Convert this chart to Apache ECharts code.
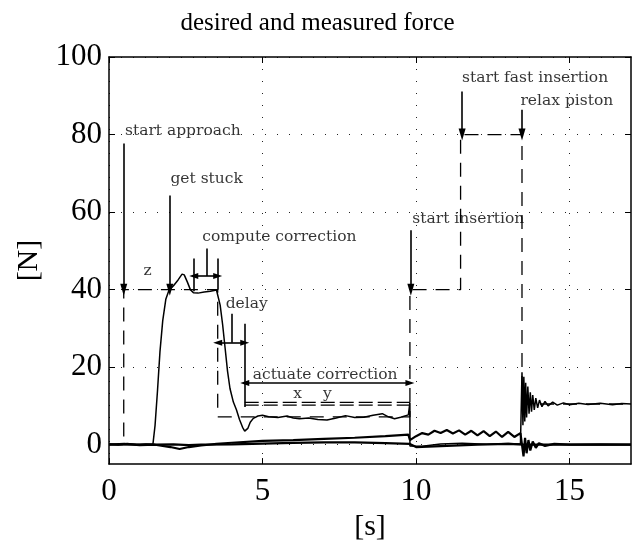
<!DOCTYPE html>
<html>
<head>
<meta charset="utf-8">
<script src="https://cdn.jsdelivr.net/npm/echarts@6/dist/echarts.min.js"></script>
<style>
  html, body { margin: 0; padding: 0; background: #fff; }
  #main { width: 635px; height: 547px; }
</style>
</head>
<body>
<div id="main"></div>
<script>
// tick labels
const xTicks = [0, 5, 10, 15]
const yTicks = [0, 20, 40, 60, 80, 100]

// desired force (dashed), [t, N]
const desired = [
  [0, 0], [0.48, 0], [0.48, 40], [3.54, 40], [3.54, 7.2], [9.8, 7.2],
  [9.8, 40], [11.45, 40], [11.45, 80], [13.45, 80], [13.45, 10.5], [17, 10.5]
]
// the two corrected levels "x" and "y"
const levelX = [[4.42, 10.9], [9.8, 10.9]]
const levelY = [[4.42, 10.2], [9.8, 10.2]]

// measured force, main trace
const measuredA = [
  [0, 0.2], [0.3, -0.1], [0.6, 0.3], [0.9, 0], [1.2, 0.2], [1.43, 0.1],
  [1.5, 5], [1.58, 14], [1.66, 24], [1.75, 32], [1.85, 37.5], [1.95, 39.8],
  [2.1, 41], [2.25, 42.5], [2.38, 44], [2.45, 43.8], [2.55, 42], [2.65, 40],
  [2.75, 39.2], [2.9, 39.1], [3.1, 39.4], [3.3, 39.6], [3.5, 39.9], [3.56, 39.5],
  [3.62, 36], [3.7, 31], [3.78, 25], [3.86, 19], [3.94, 14.5], [4.05, 11],
  [4.15, 9], [4.25, 6.5], [4.35, 4.5], [4.42, 3.5], [4.47, 3.1], [4.52, 4.2],
  [4.6, 5.8], [4.7, 6.8], [4.85, 7.4], [5.0, 7.6], [5.2, 7.2], [5.5, 7.0],
  [5.8, 7.4], [6.0, 6.9], [6.2, 6.7], [6.5, 6.9], [6.8, 6.5], [7.1, 6.4],
  [7.4, 6.9], [7.7, 7.5], [8.0, 7.0], [8.3, 7.1], [8.6, 7.6], [8.9, 8.0],
  [9.1, 7.2], [9.3, 6.7], [9.5, 7.1], [9.75, 7.7], [9.8, 10.9], [9.8, -0.3],
  [10.2, -0.4], [10.8, 0.2], [11.5, 0.4], [12.3, 0.1], [13.0, 0.3], [13.4, 0.2],
  [13.45, 18.7], [13.48, 5], [13.51, 17.5], [13.54, 6], [13.57, 16], [13.6, 7],
  [13.64, 15], [13.68, 8], [13.72, 13.5], [13.76, 8.5], [13.8, 12.8], [13.85, 9],
  [13.9, 12], [13.96, 9.5], [14.02, 11.5], [14.1, 9.8], [14.2, 11.2], [14.3, 10],
  [14.45, 11], [14.6, 10.2], [14.8, 10.8], [15.0, 10.3], [15.3, 10.7], [15.6, 10.4],
  [16.0, 10.7], [16.4, 10.3], [16.7, 10.6], [17, 10.5]
]

// measured, second trace (slow drift, noisy after 10 s)
const measuredB = [
  [0, 0], [0.5, 0.2], [1.0, -0.1], [1.5, 0], [2.0, -0.6], [2.3, -1.1], [2.6, -0.6],
  [3.0, -0.2], [3.5, 0.2], [4.0, 0.5], [5.0, 1.0], [6.0, 1.2], [7.0, 1.5],
  [8.0, 1.8], [9.0, 2.2], [9.75, 2.6], [9.8, 1.2], [10.0, 2.2], [10.2, 3.0],
  [10.4, 2.6], [10.6, 3.6], [10.8, 3.0], [11.0, 3.8], [11.2, 2.9], [11.4, 3.7],
  [11.6, 2.6], [11.8, 3.6], [12.0, 2.4], [12.2, 3.5], [12.4, 2.2], [12.6, 3.4],
  [12.8, 2.0], [13.0, 3.3], [13.2, 2.0], [13.4, 3.0], [13.45, 2.5], [13.5, -3],
  [13.55, 1.8], [13.6, -2.2], [13.66, 1.2], [13.72, -1.5], [13.8, 0.8], [13.9, -0.8],
  [14.0, 0.4], [14.2, -0.3], [14.5, 0.2], [15.0, 0], [16.0, 0.1], [17, 0]
]

// measured, third trace (stays near zero)
const measuredC = [
  [0, 0.1], [1.5, 0], [2.1, 0.1], [2.6, -0.1], [3.0, 0], [4.0, 0.1], [5.0, 0.3],
  [6.0, 0.5], [7.0, 0.6], [8.0, 0.6], [9.0, 0.4], [9.8, 0.2], [10.0, -0.6],
  [11.0, -0.3], [12.0, 0], [13.0, 0.2], [13.5, 0], [14.0, 0], [17, 0]
]

// annotation texts: [t, N (middle of text), text], text starts at t
const notes = [
  [0.52, 80.9, 'start approach'],
  [2.0, 68.5, 'get stuck'],
  [3.04, 53.7, 'compute correction'],
  [1.12, 44.7, 'z'],
  [3.8, 36.3, 'delay'],
  [4.68, 18.0, 'actuate correction'],
  [6.0, 13.1, 'x'],
  [6.97, 13.1, 'y'],
  [9.88, 58.3, 'start insertion'],
  [11.5, 94.5, 'start fast insertion'],
  [13.4, 88.6, 'relax piston']
]

// pointers: [t1, N1, t2, N2, heads]  heads: 0 none, 1 end, 2 both
const pointers = [
  [0.48, 77.7, 0.48, 40, 1],
  [1.98, 64.3, 1.98, 40, 1],
  [3.19, 50.6, 3.19, 43.5, 0],
  [2.76, 43.5, 3.54, 43.5, 2],
  [2.76, 48, 2.76, 39.6, 0],
  [3.54, 48, 3.54, 40, 0],
  [4.0, 33.8, 4.0, 26.3, 0],
  [3.54, 26.3, 4.42, 26.3, 2],
  [4.42, 31.2, 4.42, 9.7, 0],
  [4.42, 15.9, 9.8, 15.9, 2],
  [9.83, 55.3, 9.83, 40, 1],
  [11.5, 91.1, 11.5, 80, 1],
  [13.45, 86.4, 13.45, 80, 1]
]

const serif = 'Liberation Serif'
const noteFont = 'DejaVu Serif'

let chart = echarts.init(document.getElementById('main'), null, {renderer: 'canvas'})

function boxAxis(pos, withLabels) {
    let horizontal = pos === 'bottom' || pos === 'top'
    return {
        type: 'value',
        position: pos,
        min: horizontal ? 0 : -5,
        max: horizontal ? 17 : 100,
        axisLine: {show: true, onZero: false, lineStyle: {color: '#000', width: 1.5}},
        axisTick: {
            show: true, inside: true, length: 6,
            lineStyle: {color: '#000', width: 1},
            customValues: horizontal ? xTicks : yTicks
        },
        axisLabel: withLabels ? {
            show: true,
            customValues: horizontal ? xTicks : yTicks,
            color: '#000',
            fontFamily: serif,
            fontSize: 31,
            margin: horizontal ? 12 : 7
        } : {show: false},
        splitLine: withLabels ? {
            show: true,
            lineStyle: {color: '#222', width: 1, type: [1, 11]}
        } : {show: false}
    }
}

let xMain = boxAxis('bottom', true)
xMain.name = '[s]'
xMain.nameLocation = 'middle'
xMain.nameGap = 46
xMain.nameTextStyle = {fontFamily: serif, fontSize: 30, color: '#000'}

let yMain = boxAxis('left', true)
yMain.name = '[N]'
yMain.nameLocation = 'middle'
yMain.nameRotate = 90
yMain.nameGap = 64
yMain.nameTextStyle = {fontFamily: serif, fontSize: 30, color: '#000'}

function traceSeries(name, data, style) {
    return {
        name: name,
        type: 'line',
        data: data,
        showSymbol: false,
        symbol: 'none',
        silent: true,
        z: 3,
        lineStyle: Object.assign({color: '#000', width: 1.3}, style)
    }
}

let markData = pointers.map(p => {
    let size = p[4] === 2 ? [6, 9] : [7, 12]
    return [
        {coord: [p[0], p[1]], symbol: p[4] === 2 ? 'triangle' : 'none', symbolSize: size},
        {coord: [p[2], p[3]], symbol: p[4] > 0 ? 'triangle' : 'none', symbolSize: size}
    ]
})

let option = {
    animation: false,
    backgroundColor: '#fff',
    title: {
        text: 'desired and measured force',
        left: 'center',
        top: 6,
        textStyle: {fontFamily: serif, fontSize: 25, fontWeight: 'normal', color: '#000'}
    },
    grid: {left: 109, right: 4, top: 57, bottom: 80, containLabel: false},
    xAxis: [xMain, boxAxis('top', false)],
    yAxis: [yMain, boxAxis('right', false)],
    series: [
        traceSeries('desired', desired, {type: [14, 9], width: 1.3}),
        traceSeries('level x', levelX, {type: [14, 5], width: 1.3}),
        traceSeries('level y', levelY, {type: [14, 5], width: 1.3}),
        traceSeries('measured A', measuredA, {width: 1.5}),
        traceSeries('measured B', measuredB, {width: 2.2}),
        traceSeries('measured C', measuredC, {width: 2.2}),
        {
            name: 'notes',
            type: 'scatter',
            symbolSize: 0,
            silent: true,
            z: 5,
            data: notes.map(n => ({value: [n[0], n[1]], name: n[2]})),
            label: {
                show: true,
                position: 'right',
                distance: 0,
                formatter: '{b}',
                color: '#000',
                fontFamily: noteFont,
                fontSize: 15.5
            },
            markLine: {
                silent: true,
                animation: false,
                label: {show: false},
                lineStyle: {color: '#000', width: 1.6, type: 'solid'},
                emphasis: {disabled: true},
                data: markData
            }
        }
    ]
}

chart.setOption(option)
</script>
</body>
</html>
